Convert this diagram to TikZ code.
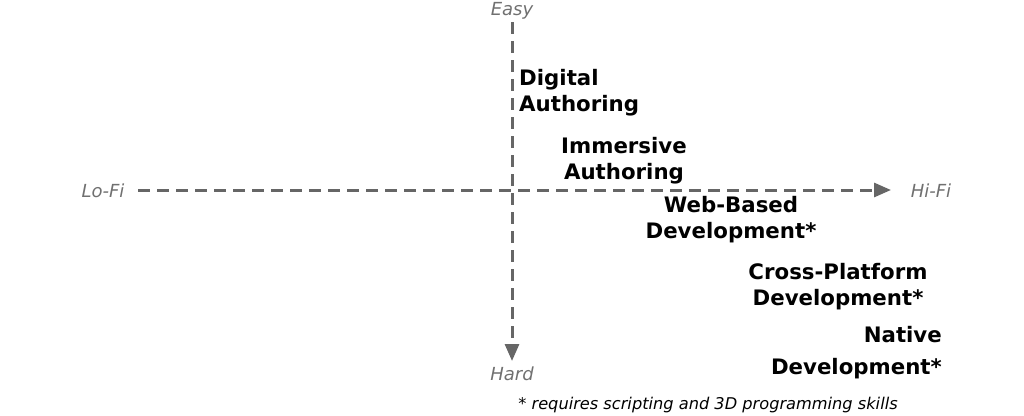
\documentclass[tikz,border=0pt]{standalone}
\usepackage{fontspec}
\setmainfont{DejaVu Sans}
\usetikzlibrary{arrows.meta}
\definecolor{axisgrey}{HTML}{666666}
\definecolor{labgrey}{HTML}{707070}
\tikzset{
  axis/.style={draw=axisgrey, line width=3pt, dash pattern=on 12pt off 7pt, -{Triangle[length=17pt,width=14pt]}},
  endlab/.style={text=labgrey, font=\fontsize{18}{20}\selectfont\itshape, inner sep=0pt},
  cat/.style={font=\fontsize{21.3}{26}\selectfont\bfseries, inner sep=0pt},
}
\begin{document}
\begin{tikzpicture}[x=1pt,y=-1pt]
\useasboundingbox (0,0) rectangle (1024,415);
\node[endlab] (easy) at (512,11) {Easy};
\node[endlab] (hard) at (512,374) {Hard};
\node[endlab] (lofi) at (103,191) {Lo-Fi};
\node[endlab] (hifi) at (931,191) {Hi-Fi};
\coordinate (vtop) at (512,22);
\coordinate (vbot) at (512,361);
\coordinate (hl) at (138,190);
\coordinate (hr) at (891,190);
\draw[axis] (vtop) -- (vbot);
\draw[axis] (hl) -- (hr);
\node[cat, align=left, anchor=west] (dig) at (519,93) {Digital\\Authoring};
\node[cat, align=center] (imm) at (624,161) {Immersive\\Authoring};
\node[cat, align=center] (web) at (731,220) {Web-Based\\Development*};
\node[cat, align=center] (cross) at (838,287) {Cross-Platform\\Development*};
\node[cat, align=right, anchor=east, font=\fontsize{21.3}{32}\selectfont\bfseries] (nat) at (942,353) {Native\\Development*};
\node[font=\fontsize{16.2}{18}\selectfont\itshape, inner sep=0pt] (foot) at (708,405) {* requires scripting and 3D programming skills};
\end{tikzpicture}
\end{document}
